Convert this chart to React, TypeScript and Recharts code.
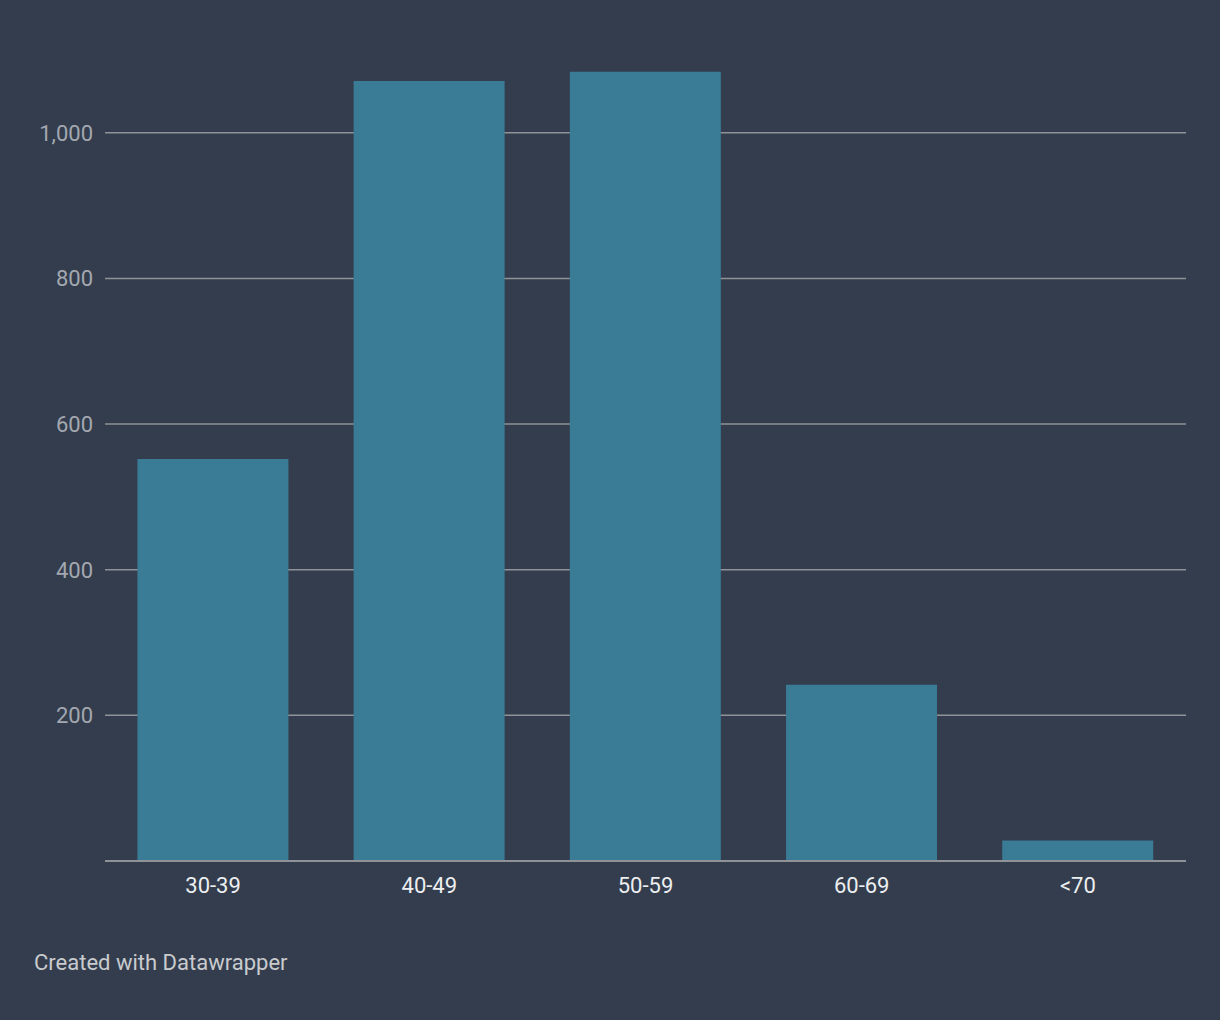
import React from "react";
import { BarChart, Bar, XAxis, YAxis, CartesianGrid } from "recharts";

const ageGroups = ["30-39", "40-49", "50-59", "60-69", "<70"];
const counts = [552, 1071, 1084, 242, 28];
const yTicks = [200, 400, 600, 800, 1000];

const data = ageGroups.map((name, i) => ({ name, value: counts[i] }));

const BG = "#333d4d";

export default function App() {
  return (
    <div
      style={{
        position: "absolute",
        left: 0,
        top: 0,
        width: 1220,
        height: 1020,
        background: BG,
        fontFamily: "Roboto, sans-serif",
      }}
    >
      <BarChart
        width={1220}
        height={1020}
        data={data}
        barCategoryGap="15%"
        margin={{ top: 60, right: 34, left: 1, bottom: 119 }}
      >
        <CartesianGrid
          horizontal
          vertical={false}
          horizontalValues={yTicks}
          stroke="#8f9296"
          strokeWidth={1.5}
        />
        <XAxis
          dataKey="name"
          height={40}
          tickLine={false}
          tickSize={0}
          tickMargin={16}
          axisLine={{ stroke: "#8f9296", strokeWidth: 2 }}
          tick={{ fill: "#eceef0", fontSize: 22 }}
        />
        <YAxis
          width={104}
          domain={[0, 1100]}
          ticks={yTicks}
          tickFormatter={(v: number) => v.toLocaleString("en-US")}
          axisLine={false}
          tickLine={false}
          tickSize={0}
          tickMargin={12}
          tick={{ fill: "#a3a8b0", fontSize: 22 }}
        />
        <Bar dataKey="value" fill="#3a7b96" isAnimationActive={false} />
      </BarChart>
      <div
        style={{
          position: "absolute",
          left: 34,
          top: 950,
          fontSize: 22,
          color: "#c9cbcf",
        }}
      >
        Created with Datawrapper
      </div>
    </div>
  );
}
